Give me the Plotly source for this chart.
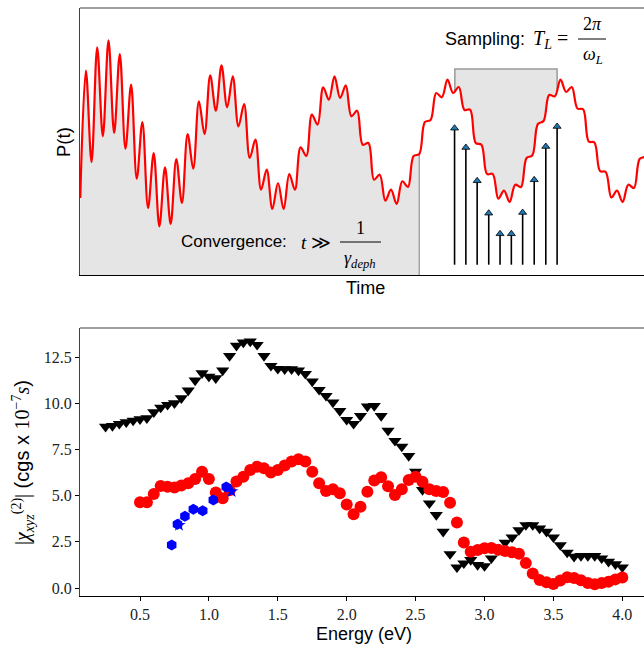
import numpy as np
import plotly.graph_objects as go

# ---------------- top panel (schematic P(t)) ----------------
# P(t) at every half period of the fast oscillation
# (time unit = half fast period; P in arbitrary units)
p_samples = [
    77, 204.3, 113, 227.7, 138.7, 234.7, 142, 221, 126.3, 190.3,
    96.3, 153, 67, 122, 48.7, 107.7, 51, 116, 72, 141,
    106.3, 173.7, 141, 199.7, 164.3, 209.7, 167.7, 198.7, 148.7, 171,
    117, 135.3, 85.3, 105.3, 66, 92, 66, 101, 85.3, 127.7,
    119, 160.3, 150.3, 187.7, 175.3, 198.7, 177, 189.7, 158.7, 164.3,
    130.3, 132, 95.3, 100.3, 74.3, 85.3, 71, 93.7, 88, 119,
    121, 153, 155, 182, 177.7, 195.3, 182, 188, 165, 165.3,
    132, 130.3, 101, 101, 76.3, 84.3, 73, 90.3, 88, 117,
    119.5, 151, 154, 180, 178.7, 195.3, 183, 188, 166.5, 165.7,
    133.5, 132.5, 104, 103, 77.5, 84.3, 73, 90.3, 87, 116,
    119, 151,
]
sample_times = list(range(len(p_samples)))

convergence_last = 60                     # last sample inside the convergence window
sampling_window = [66.3, 84.4]            # one period T_L
sampling_top = 206
arrow_times = [66.25, 68.25, 70.25, 72.3, 74.3, 76.3, 78.3, 80.35, 82.4, 84.4]
arrow_heights = [150.3, 131, 97.7, 65.3, 44.7, 44.7, 66, 98.7, 132, 152]
arrow_base = 10.3

# ---------------- bottom panel (chi^(2) spectrum) ----------------
energy_black = np.round(np.arange(0.25, 4.0001, 0.05), 2)
chi_black = [
    8.74, 8.78, 8.89, 8.98, 9.07, 9.14, 9.20, 9.52, 9.77, 9.92,
    10.01, 10.28, 10.70, 11.24, 11.63, 11.45, 11.36, 11.78, 12.57, 13.12,
    13.30, 13.35, 13.17, 12.57, 12.03, 11.87, 11.85, 11.85, 11.78, 11.60,
    11.19, 10.73, 10.41, 10.05, 9.59, 9.11, 8.89, 9.32, 9.83, 9.86,
    9.32, 8.53, 7.97, 7.66, 7.15, 6.31, 5.31, 4.59, 3.96, 3.05,
    1.84, 1.12, 1.34, 1.52, 1.25, 1.19, 1.61, 2.06, 2.46, 2.75,
    3.14, 3.41, 3.41, 3.23, 3.05, 2.75, 2.33, 1.92, 1.70, 1.74,
    1.74, 1.74, 1.61, 1.43, 1.29, 1.12,
]
energy_red = np.round(np.arange(0.5, 4.0001, 0.05), 2)
chi_red = [
    4.64, 4.64, 5.09, 5.53, 5.49, 5.44, 5.55, 5.67, 5.91, 6.30,
    5.91, 5.17, 4.86, 5.30, 5.77, 6.03, 6.39, 6.57, 6.48, 6.25,
    6.39, 6.63, 6.85, 6.97, 6.85, 6.30, 5.67, 5.26, 5.35, 5.13,
    4.53, 4.00, 4.40, 5.22, 5.82, 6.00, 5.51, 5.04, 5.35, 5.85,
    6.03, 5.76, 5.35, 5.26, 5.20, 4.62, 3.55, 2.47, 1.97, 2.06,
    2.15, 2.17, 2.08, 2.00, 1.94, 1.86, 1.35, 0.79, 0.43, 0.32,
    0.22, 0.41, 0.59, 0.55, 0.42, 0.27, 0.21, 0.27, 0.34, 0.47,
    0.57,
]
energy_blue_hex = [0.73, 0.772, 0.826, 0.887, 0.955, 1.032, 1.126]
chi_blue_hex = [2.33, 3.46, 3.89, 4.27, 4.19, 4.77, 5.47]
energy_blue_star = [0.783, 1.165]
chi_blue_star = [3.41, 5.23]

x_ticks = [0.5, 1.0, 1.5, 2.0, 2.5, 3.0, 3.5, 4.0]
y_ticks = [0.0, 2.5, 5.0, 7.5, 10.0, 12.5]

# ---------------- layout helpers ----------------
W, H = 644, 648
ML, MR, MT, MB = 80, 0, 8, 52
def px(X):
    return (X - ML) / (W - ML - MR)
def py(Y):
    return (H - MB - Y) / (H - MT - MB)

SANS = "Liberation Sans"
SERIF = "Liberation Serif"
GRAY_FILL = "#e5e5e5"
EDGE_GRAY = "#9a9a9a"

fig = go.Figure()

# convergence region (filled under the curve)
n_conv = convergence_last + 1
fig.add_trace(go.Scatter(
    x=sample_times[:n_conv], y=p_samples[:n_conv], mode="lines",
    line=dict(width=0, shape="spline", color=GRAY_FILL), fill="tozeroy",
    fillcolor=GRAY_FILL, xaxis="x", yaxis="y", hoverinfo="skip"))
fig.add_trace(go.Scatter(
    x=[sample_times[convergence_last]] * 2, y=[0, p_samples[convergence_last]],
    mode="lines", line=dict(color=EDGE_GRAY, width=1.3), xaxis="x", yaxis="y",
    hoverinfo="skip"))

# sampling window: gray box above the curve
fig.add_shape(type="rect", xref="x", yref="y", layer="below",
              x0=sampling_window[0], x1=sampling_window[1], y0=0, y1=sampling_top,
              fillcolor=GRAY_FILL, line=dict(color=EDGE_GRAY, width=1.5))
i0 = int(np.floor(sampling_window[0])) - 1
i1 = int(np.ceil(sampling_window[1])) + 2
fig.add_trace(go.Scatter(
    x=sample_times[i0:i1], y=p_samples[i0:i1], mode="lines",
    line=dict(width=0, shape="spline", color="white"), fill="tozeroy",
    fillcolor="white", xaxis="x", yaxis="y", hoverinfo="skip"))

# sampling arrows
head_size = 7
shaft_x, shaft_y = [], []
for t, h in zip(arrow_times, arrow_heights):
    shaft_x += [t, t, None]
    shaft_y += [arrow_base, h - 4, None]
fig.add_trace(go.Scatter(x=shaft_x, y=shaft_y, mode="lines",
                         line=dict(color="black", width=1.6),
                         xaxis="x", yaxis="y", hoverinfo="skip"))
fig.add_trace(go.Scatter(x=arrow_times, y=[h - head_size / 2 for h in arrow_heights],
                         mode="markers",
                         marker=dict(symbol="triangle-up", size=head_size, color="#1f77b4",
                                     line=dict(color="black", width=0.8)),
                         xaxis="x", yaxis="y", hoverinfo="skip"))

# P(t) curve
fig.add_trace(go.Scatter(x=sample_times, y=p_samples, mode="lines",
                         line=dict(color="red", width=2.2, shape="spline"),
                         xaxis="x", yaxis="y", hoverinfo="skip"))

# bottom panel data
fig.add_trace(go.Scatter(x=energy_black, y=chi_black, mode="markers",
                         marker=dict(symbol="triangle-down", size=11.5, color="black"),
                         xaxis="x2", yaxis="y2"))
fig.add_trace(go.Scatter(x=energy_red, y=chi_red, mode="markers",
                         marker=dict(symbol="circle", size=12, color="red"),
                         xaxis="x2", yaxis="y2"))
fig.add_trace(go.Scatter(x=energy_blue_hex, y=chi_blue_hex, mode="markers",
                         marker=dict(symbol="hexagon", size=11, color="blue"),
                         xaxis="x2", yaxis="y2"))
fig.add_trace(go.Scatter(x=energy_blue_star, y=chi_blue_star, mode="markers",
                         marker=dict(symbol="star", size=10, color="blue"),
                         xaxis="x2", yaxis="y2"))

top_dom = [py(275), py(8)]
bot_dom = [py(596), py(328)]

fig.update_layout(
    width=W, height=H, margin=dict(l=ML, r=MR, t=MT, b=MB),
    paper_bgcolor="white", plot_bgcolor="white", showlegend=False,
    font=dict(family=SANS, color="black"),
    xaxis=dict(domain=[0, 1], anchor="y", range=[-0.044, 99.78],
               showticklabels=False, ticks="", showgrid=False, zeroline=False,
               showline=True, linecolor="black", linewidth=1.3),
    yaxis=dict(domain=top_dom, anchor="x", range=[0, 267],
               showticklabels=False, ticks="", showgrid=False, zeroline=False,
               showline=True, linecolor="#404040", linewidth=1.3),
    xaxis2=dict(domain=[0, 1], anchor="y2", range=[0.0646, 4.1575],
                tickvals=x_ticks, ticktext=[f"{v:.1f}" for v in x_ticks],
                ticks="outside", ticklen=4, tickwidth=1, tickcolor="black",
                tickfont=dict(family=SERIF, size=16, color="#222"),
                showgrid=False, zeroline=False,
                showline=True, linecolor="black", linewidth=1.3),
    yaxis2=dict(domain=bot_dom, anchor="x2", range=[-0.43, 14.08],
                tickvals=y_ticks, ticktext=[f"{v:.1f}" for v in y_ticks],
                ticks="outside", ticklen=4, tickwidth=1, tickcolor="black",
                tickfont=dict(family=SERIF, size=16, color="#222"),
                showgrid=False, zeroline=False,
                showline=True, linecolor="#404040", linewidth=1.3),
)

# top spines (no right spine: the figure is cut at the right edge)
for Y in (8, 328):
    fig.add_shape(type="line", xref="paper", yref="paper", x0=0, x1=1,
                  y0=py(Y), y1=py(Y), line=dict(color="#808080", width=1.5))

def note(X, Y, text, size=17, family=SANS, xanchor="center", angle=0, color="black"):
    fig.add_annotation(x=px(X), y=py(Y), xref="paper", yref="paper", text=text,
                       showarrow=False, xanchor=xanchor, yanchor="middle",
                       textangle=angle, font=dict(family=family, size=size, color=color))

# axis labels
note(63, 142, "P(t)", size=18.5, angle=-90)
note(365, 288, "Time", size=18)
note(364, 634, "Energy (eV)", size=18)
ylab = (f'<span style="font-family:{SERIF}">|<i>χ</i><sub><i>xyz</i></sub>'
        f'<sup>(2)</sup>|</span> (cgs x '
        f'<span style="font-family:{SERIF}">10<sup>−7</sup><i>s</i></span>)')
note(23, 463, ylab, size=20, angle=-90)

# Sampling annotation
note(527, 39, "Sampling:", size=18, xanchor="right")
note(531, 40, f'<span style="font-family:{SERIF}"><i>T</i><sub><i>L</i></sub> =</span>',
     size=20, xanchor="left")
fig.add_shape(type="line", xref="paper", yref="paper", x0=px(578), x1=px(606),
              y0=py(39), y1=py(39), line=dict(color="black", width=1))
note(592, 24, f'<span style="font-family:{SERIF}">2<i>π</i></span>', size=18)
note(593, 56, f'<span style="font-family:{SERIF}"><i>ω</i><sub><i>L</i></sub></span>', size=18)

# Convergence annotation
note(289, 241, "Convergence:", size=17, xanchor="right")
note(299, 242, f'<span style="font-family:{SERIF}"><i>t</i> ≫</span>', size=19, xanchor="left")
fig.add_shape(type="line", xref="paper", yref="paper", x0=px(340), x1=px(381),
              y0=py(242), y1=py(242), line=dict(color="black", width=1))
note(360, 228, f'<span style="font-family:{SERIF}">1</span>', size=18)
note(360, 259, f'<span style="font-family:{SERIF}"><i>γ</i><sub><i>deph</i></sub></span>', size=18)

fig.write_html("out.html", config={"displayModeBar": False},
               post_script="document.body.style.margin='0';")
